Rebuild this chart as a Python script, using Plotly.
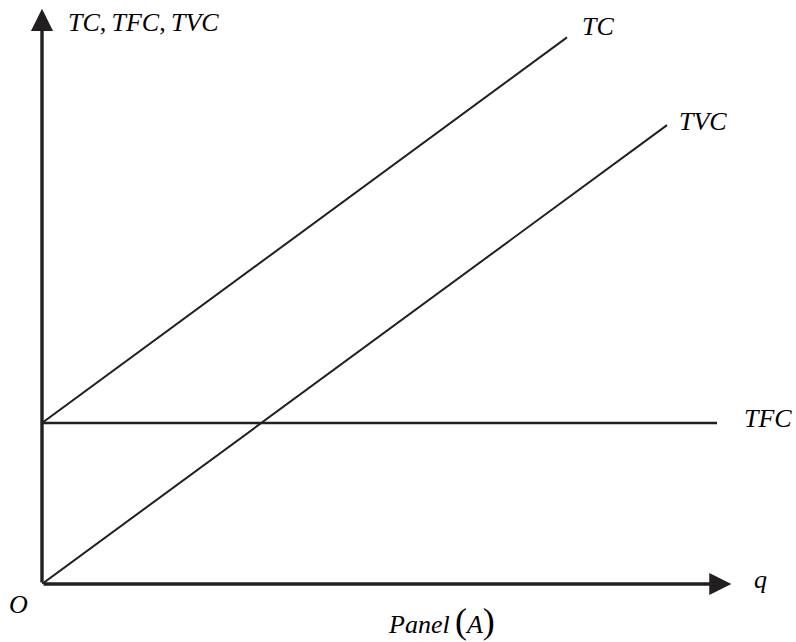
import plotly.graph_objects as go

# Output levels (q) and cost schedules
q_tc = [0, 84]
tc = [40, 135.8]
q_tvc = [0, 100]
tvc = [0, 114]
q_tfc = [0, 108]
tfc = [40, 40]

# Axis extents (arrow tips)
q_axis_end = 110.3
cost_axis_end = 142.9

ink = "#231f20"
serif = "Liberation Serif, Times New Roman, serif"

fig = go.Figure()
for xs, ys, w in [(q_tc, tc, 2), (q_tvc, tvc, 2), (q_tfc, tfc, 2.5)]:
    fig.add_trace(go.Scatter(x=xs, y=ys, mode="lines",
                             line=dict(color=ink, width=w),
                             hoverinfo="skip", showlegend=False))

# Axes drawn as arrows
for x, y in [(q_axis_end, 0), (0, cost_axis_end)]:
    fig.add_annotation(x=x, y=y, ax=0, ay=0, xref="x", yref="y",
                       axref="x", ayref="y", text="", showarrow=True,
                       arrowhead=2, arrowsize=1.3, arrowwidth=3.4,
                       arrowcolor=ink, standoff=0)

def label(text, x, y, xanchor="left", size=26, ref="x"):
    fig.add_annotation(x=x, y=y,
                       xref="x" if ref == "x" else "paper",
                       yref="y" if ref == "x" else "paper",
                       text=text, showarrow=False, xanchor=xanchor,
                       yanchor="middle",
                       font=dict(family=serif, size=size, color="black"))

thin = "\u2009"
label(f"<i>TC</i>,{thin}<i>TFC</i>,{thin}<i>TVC</i>", 3.8, 139.6)
label("<i>TC</i>", 86.1, 138.4)
label("<i>TVC</i>", 101.6, 114.8)
label("<i>TFC</i>", 112.0, 41.2)
label("<i>q</i>", 114.9, 1.0, xanchor="center")
# Labels below the horizontal axis, placed in paper coordinates
label("<i>O</i>", -0.032, -0.036, xanchor="center", ref="paper")
paren = "<span style='font-size:36px'>{}</span>"
label(f"<i>Panel</i>{thin}{paren.format('(')}<i>A</i>{paren.format(')')}",
      0.532, -0.063, xanchor="center", ref="paper")

fig.update_xaxes(range=[0, 120], visible=False, showgrid=False, zeroline=False)
fig.update_yaxes(range=[0, 144.1], visible=False, showgrid=False, zeroline=False)
fig.update_layout(width=796, height=642, autosize=False,
                  margin=dict(l=42, r=4, t=4, b=58),
                  plot_bgcolor="white", paper_bgcolor="white")

fig.write_html("out.html")
